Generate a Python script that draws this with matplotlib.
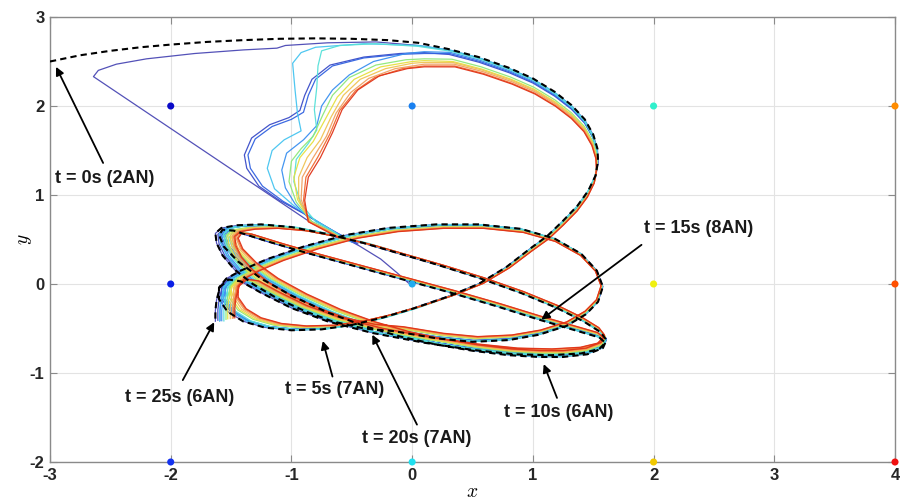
"""
Trajectory estimates vs. reference path with anchor-node annotations.
"""

import numpy as np
import matplotlib
matplotlib.use("Agg")
import matplotlib.pyplot as plt

# reference (true) path, t = 0s .. 25s
ref_x = [-3.00, -2.75, -2.50, -2.25, -2.00, -1.70, -1.40, -1.10, -0.80, -0.50, -0.20, 0.05,
         0.30, 0.55, 0.80, 1.00, 1.18, 1.32, 1.43, 1.50, 1.535, 1.54, 1.52, 1.46, 1.37, 1.25,
         1.12, 0.97, 0.78, 0.55, 0.30, 0.00, -0.25, -0.50, -0.75, -1.00, -1.22, -1.40, -1.53,
         -1.60, -1.60, -1.54, -1.42, -1.20, -0.90, -0.55, -0.20, 0.20, 0.55, 0.90, 1.18, 1.40,
         1.53, 1.58, 1.54, 1.44, 1.28, 1.05, 0.80, 0.50, 0.20, -0.15, -0.40, -0.66, -0.88,
         -1.12, -1.32, -1.47, -1.57, -1.62, -1.63, -1.58, -1.45, -1.25, -1.00, -0.70, -0.40,
         -0.10, 0.20, 0.55, 0.90, 1.20, 1.42, 1.56, 1.61, 1.58, 1.45, 1.25, 1.05, 0.80, 0.50,
         0.20, -0.10, -0.40, -0.70, -1.00, -1.25, -1.44, -1.56, -1.60, -1.57, -1.48, -1.20,
         -0.90, -0.50, -0.10, 0.30, 0.70, 1.05, 1.35, 1.55, 1.60, 1.55, 1.40, 1.15, 0.85, 0.50,
         0.10, -0.33, -0.70, -1.00, -1.25, -1.42, -1.52, -1.59, -1.62, -1.63, -1.63]
ref_y = [2.50, 2.57, 2.62, 2.66, 2.69, 2.72, 2.74, 2.755, 2.76, 2.755, 2.74, 2.71,
         2.64, 2.55, 2.43, 2.31, 2.16, 2.01, 1.85, 1.68, 1.52, 1.38, 1.22, 1.05, 0.88, 0.71,
         0.54, 0.39, 0.19, 0.00, -0.14, -0.28, -0.38, -0.46, -0.51, -0.52, -0.49, -0.42, -0.31,
         -0.17, -0.04, 0.06, 0.15, 0.28, 0.42, 0.55, 0.63, 0.67, 0.67, 0.62, 0.51, 0.34,
         0.15, -0.03, -0.20, -0.34, -0.47, -0.57, -0.63, -0.65, -0.61, -0.53, -0.50, -0.42, -0.31,
         -0.16, 0.00, 0.16, 0.32, 0.46, 0.57, 0.63, 0.66, 0.67, 0.64, 0.56, 0.46,
         0.34, 0.22, 0.07, -0.10, -0.27, -0.42, -0.54, -0.63, -0.72, -0.79, -0.82, -0.82, -0.80, -0.75,
         -0.68, -0.59, -0.47, -0.32, -0.13, 0.06, 0.25, 0.42, 0.55, 0.61, 0.60, 0.48,
         0.36, 0.21, 0.06, -0.09, -0.25, -0.40, -0.52, -0.60, -0.66, -0.73, -0.78, -0.80, -0.79, -0.74,
         -0.66, -0.55, -0.42, -0.27, -0.10, 0.03, 0.05, -0.03, -0.18, -0.30, -0.42]
JOIN = 12  # estimates merge with the reference shape from ref point (0.30, 2.64) on

# lead-in of each estimate (before merging with the reference shape)
lead_in = [
    [(-0.03, 0.01), (-0.12, 0.12), (-0.26, 0.28), (-0.44, 0.43), (-0.62, 0.56), (-0.85, 0.70),
     (-2.64, 2.33), (-2.60, 2.40), (-2.45, 2.47), (-2.20, 2.53), (-1.80, 2.59), (-1.40, 2.63),
     (-1.12, 2.65), (-1.05, 2.68), (-0.70, 2.71), (-0.30, 2.72), (0.05, 2.68)],
    [(-0.45, 0.45), (-0.62, 0.57), (-0.77, 0.69), (-0.91, 0.80), (-1.10, 0.94), (-1.27, 1.10),
     (-1.37, 1.30), (-1.39, 1.45), (-1.33, 1.64), (-1.18, 1.79), (-1.02, 1.87), (-0.93, 1.95),
     (-0.89, 2.12), (-0.83, 2.30), (-0.68, 2.46), (-0.40, 2.55), (-0.10, 2.59), (0.10, 2.60)],
    [(-0.47, 0.46), (-0.63, 0.58), (-0.76, 0.68), (-0.89, 0.79), (-1.07, 0.93), (-1.24, 1.10),
     (-1.34, 1.30), (-1.36, 1.45), (-1.30, 1.63), (-1.16, 1.77), (-1.00, 1.85), (-0.90, 1.93),
     (-0.86, 2.12), (-0.80, 2.30), (-0.66, 2.45), (-0.40, 2.54), (-0.10, 2.58), (0.10, 2.59)],
    [(-0.50, 0.47), (-0.68, 0.60), (-0.83, 0.70), (-0.97, 0.90), (-1.05, 1.08), (-1.08, 1.28),
     (-1.04, 1.47), (-0.90, 1.62), (-0.79, 1.78), (-0.75, 2.00), (-0.66, 2.18), (-0.52, 2.35),
     (-0.32, 2.50), (-0.05, 2.59), (0.10, 2.61)],
    [(-0.52, 0.48), (-0.66, 0.60), (-0.78, 0.70), (-0.98, 0.88), (-1.14, 1.07), (-1.20, 1.30),
     (-1.16, 1.50), (-1.06, 1.62), (-0.92, 1.72), (-0.95, 1.92), (-0.97, 2.18), (-0.99, 2.48),
     (-0.92, 2.60), (-0.80, 2.66), (-0.40, 2.70), (0.05, 2.68)],
    [(-0.54, 0.49), (-0.68, 0.61), (-0.80, 0.70), (-0.92, 0.90), (-0.98, 1.15), (-0.96, 1.40),
     (-0.86, 1.58), (-0.79, 1.73), (-0.81, 1.96), (-0.79, 2.21), (-0.78, 2.45), (-0.75, 2.62),
     (-0.60, 2.68), (-0.30, 2.70), (0.05, 2.67)],
    [(-0.56, 0.50), (-0.70, 0.61), (-0.83, 0.70), (-0.96, 0.92), (-1.02, 1.15), (-1.00, 1.38),
     (-0.92, 1.52), (-0.82, 1.66), (-0.74, 1.90), (-0.66, 2.12), (-0.52, 2.32), (-0.30, 2.46),
     (-0.05, 2.52), (0.10, 2.53)],
    [(-0.57, 0.50), (-0.71, 0.61), (-0.84, 0.70), (-0.95, 0.95), (-0.98, 1.20), (-0.93, 1.42),
     (-0.82, 1.60), (-0.72, 1.85), (-0.62, 2.10), (-0.48, 2.30), (-0.26, 2.44), (0.00, 2.50),
     (0.10, 2.51)],
    [(-0.58, 0.51), (-0.72, 0.62), (-0.85, 0.70), (-0.94, 0.96), (-0.94, 1.20), (-0.87, 1.42),
     (-0.76, 1.62), (-0.67, 1.88), (-0.57, 2.12), (-0.43, 2.30), (-0.22, 2.42), (0.00, 2.48),
     (0.10, 2.49)],
    [(-0.59, 0.51), (-0.73, 0.62), (-0.85, 0.70), (-0.92, 0.95), (-0.91, 1.20), (-0.82, 1.42),
     (-0.71, 1.66), (-0.63, 1.92), (-0.51, 2.15), (-0.36, 2.31), (-0.14, 2.42), (0.10, 2.47)],
    [(-0.60, 0.52), (-0.74, 0.62), (-0.86, 0.70), (-0.90, 0.94), (-0.88, 1.20), (-0.78, 1.43),
     (-0.68, 1.69), (-0.60, 1.95), (-0.47, 2.17), (-0.31, 2.32), (-0.08, 2.42), (0.10, 2.45)],
    [(-0.61, 0.52), (-0.75, 0.62), (-0.86, 0.70), (-0.89, 0.94), (-0.86, 1.20), (-0.76, 1.42),
     (-0.66, 1.70), (-0.58, 1.96), (-0.45, 2.18), (-0.27, 2.34), (-0.04, 2.42), (0.10, 2.44)],
]
# how far each estimate sits inside the reference shape (read off the spread of the lines)
scale_x = [1.000, 0.993, 0.987, 0.982, 0.988, 0.976, 0.970, 0.965, 0.958, 0.952, 0.948, 0.945]
scale_y = [0.996, 0.976, 0.980, 0.985, 0.996, 0.990, 0.955, 0.945, 0.940, 0.933, 0.925, 0.921]
line_colors = ["#4a48b4", "#3a4cc8", "#3262e0", "#3a90f0", "#45c4f0", "#55e0d8",
               "#8ee87a", "#e6e040", "#f0c455", "#f0a060", "#f06a30", "#e03318"]

# anchor nodes
dot_x = [-2, -2, -2, 0, 0, 0, 2, 2, 2, 4, 4, 4]
dot_y = [2, 0, -2, 2, 0, -2, 2, 0, -2, 2, 0, -2]
dot_colors = ["#0a0ac8", "#0a1ee6", "#1432f0", "#1a80f0", "#20acf0", "#20e0f0",
              "#30f0cc", "#f0f010", "#f0c800", "#ff8c00", "#ff5000", "#f01010"]

# time annotations: text, text position, arrow tail, arrow tip
notes = ["t = 0s (2AN)", "t = 15s (8AN)", "t = 25s (6AN)", "t = 5s (7AN)",
         "t = 20s (7AN)", "t = 10s (6AN)"]
note_xy = [(-2.55, 1.19), (2.37, 0.62), (-1.93, -1.27), (-0.64, -1.19), (0.04, -1.74), (1.21, -1.44)]
tail_xy = [(-2.56, 1.36), (1.90, 0.44), (-1.90, -1.08), (-0.66, -1.04), (0.04, -1.58), (1.20, -1.28)]
tip_xy = [(-2.95, 2.44), (1.07, -0.40), (-1.64, -0.43), (-0.74, -0.64), (-0.33, -0.57), (1.09, -0.90)]

CX, CY = 1.3, 0.1  # centre the estimate spread is measured from

plt.rcParams["font.family"] = ["Liberation Sans", "DejaVu Sans"]
plt.rcParams["mathtext.fontset"] = "cm"
plt.rcParams["axes.unicode_minus"] = False

fig = plt.figure(figsize=(9.0, 5.04), dpi=100)
ax = fig.add_axes([50 / 900, 42 / 504, 845 / 900, 445 / 504])

rx = np.array(ref_x)
ry = np.array(ref_y)

for k in range(len(lead_in)):
    lx = [p[0] for p in lead_in[k]]
    ly = [p[1] for p in lead_in[k]]
    ex = CX + scale_x[k] * (rx[JOIN:] - CX)
    ey = CY + scale_y[k] * (ry[JOIN:] - CY)
    ax.plot(np.concatenate([lx, ex]), np.concatenate([ly, ey]),
            color=line_colors[k], lw=0.9, alpha=0.95, zorder=2)

ax.plot(rx, ry, color="black", lw=1.5, ls=(0, (3, 2)), zorder=3)

ax.scatter(dot_x, dot_y, s=26, c=dot_colors, zorder=4, clip_on=False, linewidths=0)

for txt, pos, tail, tip in zip(notes, note_xy, tail_xy, tip_xy):
    ax.text(pos[0], pos[1], txt, ha="center", va="center", fontsize=13,
            fontweight="bold", color="#1a1a1a", zorder=5)
    ax.annotate("", xy=tip, xytext=tail,
                arrowprops=dict(arrowstyle="-|>", color="black", lw=1.3,
                                mutation_scale=12, shrinkA=0, shrinkB=0), zorder=5)

ax.set_xlim(-3, 4)
ax.set_ylim(-2, 3)
ax.set_xticks(range(-3, 5))
ax.set_yticks(range(-2, 4))
ax.grid(True, color="#e3e3e3", lw=0.8)
ax.set_axisbelow(True)
for sp in ax.spines.values():
    sp.set_color("#8a8a8a")
    sp.set_linewidth(1.0)
ax.tick_params(direction="in", top=True, right=True, length=5, color="#8a8a8a",
               labelsize=12, labelcolor="#262626", pad=4)
for lab in ax.get_xticklabels() + ax.get_yticklabels():
    lab.set_fontweight("bold")
ax.set_xlabel("$x$", fontsize=14, labelpad=1)
ax.set_ylabel("$y$", fontsize=14, labelpad=-3)

fig.savefig("out.png", dpi=100)
